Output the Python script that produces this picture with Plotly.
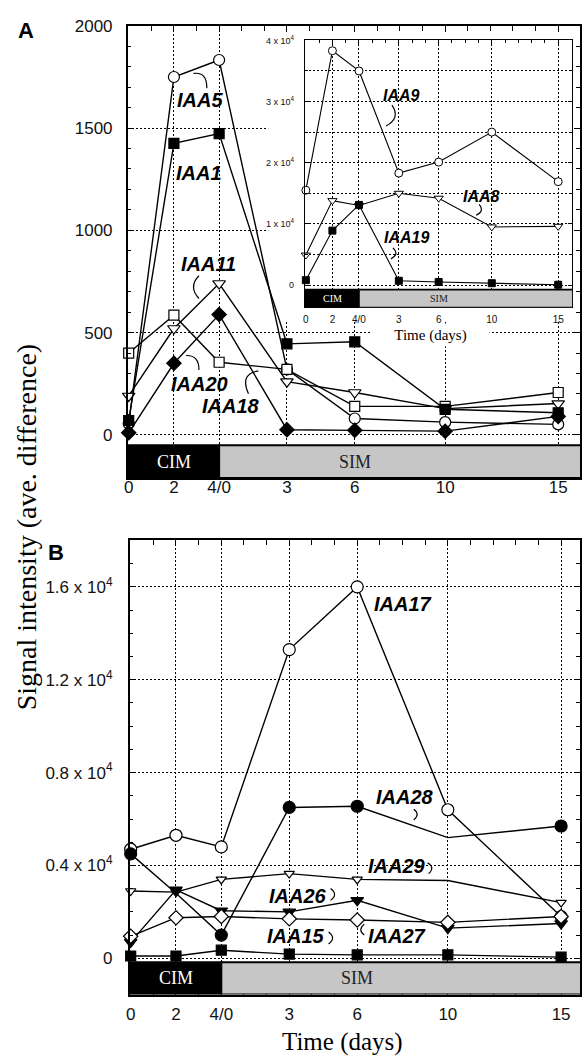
import plotly.graph_objects as go

W, H = 582, 1059

# ---------------- data ----------------
days = [0, 2, 4, 7, 10, 14, 19]          # CIM 0-4 days, then SIM 0-15 days
day_labels = ["0", "2", "4/0", "3", "6", "10", "15"]

# Panel A (main)
iaa5 = [55, 1750, 1833, 320, 80, 62, 51]
iaa1 = [70, 1425, 1473, 445, 455, 125, 108]
iaa11 = [190, 520, 740, 260, 207, 128, 153]
iaa20 = [10, 350, 588, 25, 22, 18, 90]
iaa18 = [400, 585, 355, 320, 139, 139, 207]

# Panel A inset
iaa9 = [15500, 38300, 35000, 18300, 20100, 25000, 16900]
iaa8 = [4900, 13800, 13000, 15000, 14200, 9500, 9600]
iaa19 = [800, 8900, 13100, 700, 500, 300, 50]

# Panel B
iaa17 = [4700, 5300, 4800, 13300, 16000, 6400, 1800]
iaa28 = [4500, 2800, 1000, 6500, 6550, 5200, 5700]
iaa29 = [2900, 2850, 3400, 3650, 3400, 3350, 2400]
iaa26 = [700, 2950, 2050, 2000, 2500, 1300, 1500]
iaa27 = [950, 1750, 1800, 1700, 1650, 1550, 1800]
iaa15 = [100, 100, 350, 180, 150, 150, 50]

a_yticks = [0, 500, 1000, 1500, 2000]
a_ytext = ["0", "500", "1000", "1500", "2000"]
b_yticks = [0, 4000, 8000, 12000, 16000]
b_ytext = ["0", "0.4 x 10<sup>4</sup>", "0.8 x 10<sup>4</sup>",
           "1.2 x 10<sup>4</sup>", "1.6 x 10<sup>4</sup>"]
in_yticks = [0, 10000, 20000, 30000, 40000]
in_ytext = ["0", "1 x 10<sup>4</sup>", "2 x 10<sup>4</sup>",
            "3 x 10<sup>4</sup>", "4 x 10<sup>4</sup>"]

SANS = "Liberation Sans"
SERIF = "Liberation Serif"
GRID_DASH = "2px,2px"


def px(x, y):
    return x / W, 1 - y / H


fig = go.Figure()


def add(y, sym, fill, size, xa, ya, lw=1.4, mlw=1.2, hide=None):
    op = [0 if (hide and i in hide) else 1 for i in range(len(days))]
    fig.add_trace(go.Scatter(
        x=days, y=y, mode="lines+markers", xaxis=xa, yaxis=ya,
        line=dict(color="black", width=lw),
        marker=dict(symbol=sym, color=fill, size=size, opacity=op,
                    line=dict(color="black", width=mlw)),
        cliponaxis=False, showlegend=False, hoverinfo="skip"))


# Panel A traces
add(iaa5, "circle", "white", 11, "x", "y")
add(iaa20, "diamond", "black", 11, "x", "y")
add(iaa11, "triangle-down", "white", 11, "x", "y")
add(iaa18, "square", "white", 10, "x", "y")
add(iaa1, "square", "black", 10, "x", "y")
# inset traces
add(iaa9, "circle", "white", 8, "x3", "y3", lw=1.1, mlw=1)
add(iaa8, "triangle-down", "white", 8, "x3", "y3", lw=1.1, mlw=1)
add(iaa19, "square", "black", 7, "x3", "y3", lw=1.1, mlw=1)
# Panel B traces
add(iaa17, "circle", "white", 12, "x2", "y2")
add(iaa28, "circle", "black", 12, "x2", "y2", hide=(1, 5))
add(iaa29, "triangle-down", "white", 9, "x2", "y2", hide=(5,))
add(iaa26, "triangle-down", "black", 11, "x2", "y2")
add(iaa27, "diamond", "white", 11, "x2", "y2")
add(iaa15, "square", "black", 10, "x2", "y2")


def xax(dom, rng, anchor, fsize, ticklen, mlen, standoff, lw=1.5):
    return dict(domain=dom, range=rng, anchor=anchor, tickmode="array",
                tickvals=days, ticktext=day_labels, ticks="inside",
                ticklen=ticklen, tickwidth=1.2, tickcolor="black",
                showline=True, linecolor="black", linewidth=lw, mirror="ticks",
                showgrid=True, gridcolor="black", griddash=GRID_DASH, gridwidth=1,
                zeroline=False,
                minor=dict(ticks="inside", ticklen=mlen, tickwidth=1,
                           tickcolor="black", dtick=1, tick0=0, showgrid=False),
                tickfont=dict(family=SANS, size=fsize, color="#111"),
                ticklabelstandoff=standoff)


def yax(dom, rng, anchor, vals, text, fsize, ticklen, mdt, mlen, standoff,
        lw=1.5, mgrid=False):
    d = dict(domain=dom, range=rng, anchor=anchor, tickmode="array",
             tickvals=vals, ticktext=text, ticks="inside", ticklen=ticklen,
             tickwidth=1.2, tickcolor="black", showline=True, linecolor="black",
             linewidth=lw, mirror="ticks", showgrid=True, gridcolor="black",
             griddash=GRID_DASH, gridwidth=1, zeroline=False,
             tickfont=dict(family=SANS, size=fsize, color="#111"),
             ticklabelstandoff=standoff)
    d["minor"] = dict(ticks="inside", ticklen=mlen, tickwidth=1,
                      tickcolor="black", dtick=mdt, tick0=0, showgrid=mgrid,
                      gridcolor="black", griddash=GRID_DASH, gridwidth=1)
    return d


# pixel geometry -> ranges
A_L, A_T, A_B = 125, 17, 473
A_scale = 22.84
B_L, B_T, B_B = 127, 536, 994
B_scale = 22.89
I_L, I_R, I_T, I_B = 304, 574, 31, 301
I_scale = 13.42

A_ymin, A_ymax = -211, 2000
B_ymin, B_ymax = -1560, 18000
I_ymin, I_ymax = -3660, 40100

fig.update_layout(
    width=W, height=H, margin=dict(l=0, r=0, t=0, b=0),
    paper_bgcolor="white", plot_bgcolor="white",
    xaxis=xax([A_L / W, 1], [-1 / A_scale, (W - A_L - 1) / A_scale], "y", 17, 6, 5, -7),
    yaxis=yax([1 - A_B / H, 1 - A_T / H], [A_ymin, A_ymax], "x", a_yticks, a_ytext,
              17, 6, 100, 4, 10),
    xaxis2=xax([B_L / W, 1], [-1 / B_scale, (W - B_L - 1) / B_scale], "y2", 17, 6, 5, 3),
    yaxis2=yax([1 - B_B / H, 1 - B_T / H], [B_ymin, B_ymax], "x2", b_yticks, b_ytext,
               17, 6, 1000, 4, 12),
    xaxis3=xax([I_L / W, I_R / W], [-1 / I_scale, (I_R - I_L - 1) / I_scale], "y3",
               10, 4, 3, 2, lw=1.2),
    yaxis3=yax([1 - I_B / H, 1 - I_T / H], [I_ymin, I_ymax], "x3", in_yticks, in_ytext,
               9, 4, 5000, 3, 8, lw=1.2, mgrid=True),
)

shapes = []
# white backdrop behind the inset (covers panel A grid only)
shapes.append(dict(type="rect", xref="x", yref="y", layer="between",
                   x0=(267 - A_L - 1) / A_scale, x1=21, y0=557, y1=2100,
                   fillcolor="white", line=dict(width=0)))


def bar(xr, yr, y0, y1, lw):
    shapes.append(dict(type="rect", xref=xr, yref=yr, layer="above", x0=-1, x1=4,
                       y0=y0, y1=y1, fillcolor="black",
                       line=dict(color="black", width=lw)))
    shapes.append(dict(type="rect", xref=xr, yref=yr, layer="above", x0=4, x1=21,
                       y0=y0, y1=y1, fillcolor="#c6c6c6",
                       line=dict(color="black", width=lw)))


bar("x", "y", A_ymin, -51, 2)
bar("x2", "y2", B_ymin, -170, 2)
bar("x3", "y3", I_ymin, -750, 1.6)


def arc(p0, c, p1):
    a, b = px(*p0)
    cx, cy = px(*c)
    e, f = px(*p1)
    shapes.append(dict(type="path", xref="paper", yref="paper",
                       path=f"M {a} {b} Q {cx} {cy} {e} {f}",
                       line=dict(color="black", width=1.2)))


# leader arcs
arc((191.5, 65), (205, 63), (205, 80))      # IAA5
arc((197, 269), (186, 280), (197, 292))     # IAA11
arc((184, 349.5), (197, 349), (197, 364))   # IAA20
arc((257, 365), (238, 368), (247, 388))     # IAA18
arc((392, 97), (401, 110), (386, 118))      # IAA9
arc((480, 197), (486, 204), (477, 208))     # IAA8
arc((393, 241), (400, 247), (391, 252))     # IAA19
arc((414, 807), (421, 812), (414, 818))     # IAA28
arc((428, 861), (436, 866), (429, 872))     # IAA29
arc((330, 887), (338, 893), (330, 899))     # IAA26
arc((328, 931), (336, 937), (328, 943))     # IAA15
arc((364, 923), (357, 929), (364, 934))     # IAA27

fig.update_layout(shapes=shapes)

ann = []


def label(text, x, y, size, family=SANS, color="black", bold_italic=True, **kw):
    xp, yp = px(x, y)
    t = f"<b><i>{text}</i></b>" if bold_italic else text
    d = dict(text=t, x=xp, y=yp, xref="paper", yref="paper", showarrow=False,
             xanchor="center", yanchor="middle",
             font=dict(family=family, size=size, color=color))
    d.update(kw)
    ann.append(d)


# gene labels
label("IAA5", 198.5, 92, 20)
label("IAA1", 197.5, 165.5, 20)
label("IAA11", 206.5, 257, 20)
label("IAA20", 198, 378, 20)
label("IAA18", 229.5, 400, 20)
label("IAA9", 401.5, 87, 16)
label("IAA8", 482.5, 189, 16)
label("IAA19", 407, 230, 16)
label("IAA17", 403, 600.5, 20)
label("IAA28", 405.5, 794.5, 20)
label("IAA29", 397, 864, 20)
label("IAA26", 297.5, 894.5, 20)
label("IAA27", 397, 934.5, 20)
label("IAA15", 295.5, 935, 20)

# panel letters
label("A", 22, 22, 22, bold_italic=False)
ann[-1]["text"] = "<b>A</b>"
label("B", 53, 548, 22, bold_italic=False)
ann[-1]["text"] = "<b>B</b>"

# CIM / SIM bar texts
for xr, yr, yc, fs in (("x", "y", (A_ymin - 51) / 2, 18),
                       ("x2", "y2", (B_ymin - 170) / 2, 18),
                       ("x3", "y3", (I_ymin - 750) / 2, 10)):
    ann.append(dict(text="CIM", x=2, y=yc, xref=xr, yref=yr, showarrow=False,
                    font=dict(family=SERIF, size=fs, color="white")))
    ann.append(dict(text="SIM", x=10, y=yc, xref=xr, yref=yr, showarrow=False,
                    font=dict(family=SERIF, size=fs, color="#222")))

# axis titles
label("Signal intensity (ave. difference)", 23, 523, 28, family=SERIF,
      bold_italic=False, textangle=-90)
label("Time (days)", 342, 1042, 25, family=SERIF, bold_italic=False)
label("Time (days)", 431, 329, 15, family=SERIF, bold_italic=False,
      bgcolor="white", width=115, height=20)

fig.update_layout(annotations=ann)

fig.write_html("out.html", config={"displayModeBar": False},
               post_script="document.body.style.margin='0';")
